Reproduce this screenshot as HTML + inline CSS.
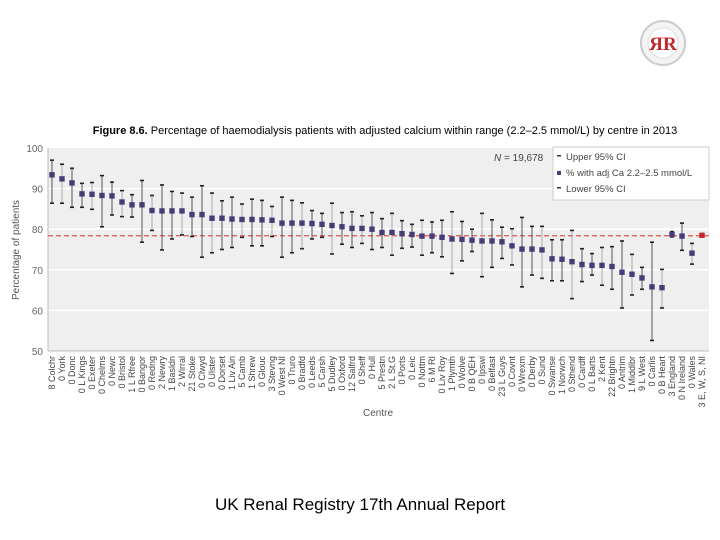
<!DOCTYPE html>
<html><head><meta charset="utf-8"><style>
body{margin:0;background:#fff;width:720px;height:540px;overflow:hidden;font-family:"Liberation Sans",sans-serif}
svg{display:block}
</style></head><body>
<svg id="chart" width="720" height="540" xmlns="http://www.w3.org/2000/svg" font-family="Liberation Sans, sans-serif">
<g>
<circle cx="663" cy="43" r="22" fill="#f4f4f4" stroke="#ccc" stroke-width="2"/>
<circle cx="663" cy="43" r="15" fill="#fff" stroke="#ddd"/>
<text x="663" y="50" text-anchor="middle" font-size="19" font-weight="bold" fill="#c0282d" font-family="Liberation Serif, serif">ЯR</text>
</g>
<text x="385" y="134" text-anchor="middle" font-size="11" fill="#000"><tspan font-weight="bold">Figure 8.6.</tspan> Percentage of haemodialysis patients with adjusted calcium within range (2.2–2.5 mmol/L) by centre in 2013</text>
<rect x="48" y="148" width="661" height="203" fill="#efefef"/>
<g id="grid"></g>
<g id="yticks"></g>
<line x1="48" y1="148" x2="48" y2="351" stroke="#bbb"/>
<line x1="48" y1="351" x2="709" y2="351" stroke="#bbb"/>
<text transform="translate(19,250) rotate(-90)" text-anchor="middle" font-size="10" fill="#555">Percentage of patients</text>
<text x="378" y="416" text-anchor="middle" font-size="10" fill="#555">Centre</text>
<line id="refline" stroke="#e0645a" stroke-width="1.3" stroke-dasharray="5,3"/>
<g id="marks"></g>
<g id="xlabels"></g>
<g>
<rect x="553" y="147" width="156" height="53" fill="#fff" stroke="#ccc"/>
<text x="494" y="161" font-size="10" fill="#444"><tspan font-style="italic">N</tspan> = 19,678</text>
<rect x="557" y="155" width="4" height="1.5" fill="#333"/><text x="566" y="160" font-size="9.5" fill="#444">Upper 95% CI</text>
<rect x="557" y="171" width="4" height="4" fill="#4a3f7a"/><text x="566" y="176" font-size="9.5" fill="#444">% with adj Ca 2.2–2.5 mmol/L</text>
<rect x="557" y="187" width="4" height="1.5" fill="#333"/><text x="566" y="192" font-size="9.5" fill="#444">Lower 95% CI</text>
</g>
<text x="360" y="510" text-anchor="middle" font-size="17" fill="#000">UK Renal Registry 17th Annual Report</text>
</svg>
<script>
const categories=["8 Colchr","0 York","0 Donc","0 L Kings","0 Exeter","0 Chelms","0 Newc","0 Bristol","1 L Rfree","0 Bangor","0 Redng","2 Newry","1 Basldn","2 Wirral","21 Stoke","0 Clwyd","0 Ulster","0 Dorset","1 Liv Ain","5 Camb","1 Shrew","0 Glouc","3 Stevng","0 West NI","0 Truro","0 Bradfd","0 Leeds","5 Carsh","5 Dudley","0 Oxford","12 Salfrd","0 Sheff","0 Hull","5 Prestn","2 L St.G","0 Ports","0 Leic","0 Nottm","6 M RI","0 Liv Roy","1 Plymth","0 Wolve","0 B QEH","0 Ipswi","0 Belfast","23 L Guys","0 Covnt","0 Wrexm","0 Derby","0 Sund","0 Swanse","1 Norwch","0 Sthend","0 Cardff","0 L Barts","2 Kent","22 Brightn","0 Antrim","1 Middlbr","9 L West","0 Carlis","0 B Heart","3 England","0 N Ireland","0 Wales","3 E, W, S, NI"];
const meanValues=[93.4,92.4,91.4,88.7,88.6,88.3,88.2,86.7,86.0,86.0,84.6,84.5,84.5,84.5,83.6,83.6,82.7,82.7,82.5,82.4,82.4,82.3,82.2,81.5,81.5,81.5,81.4,81.2,80.9,80.6,80.2,80.2,80.0,79.2,79.2,78.9,78.7,78.3,78.3,78.0,77.6,77.5,77.3,77.1,77.1,76.9,75.9,75.1,75.1,74.9,72.7,72.6,72.0,71.3,71.1,71.1,70.8,69.4,68.9,68.0,65.8,65.6,78.7,78.3,74.1,78.5];
const upperValues=[97.0,96.0,95.0,91.3,91.5,93.2,91.6,89.5,88.5,92.0,88.3,90.9,89.3,88.9,87.9,90.7,88.9,87.0,87.9,86.2,87.4,87.1,85.6,87.9,87.1,86.5,84.6,83.9,86.4,84.1,84.3,83.3,84.1,82.6,83.9,82.1,81.2,82.2,81.8,82.2,84.3,81.9,80.0,83.9,82.3,80.5,80.1,82.9,80.7,80.7,77.4,77.4,79.7,75.2,74.0,75.5,75.7,77.1,73.8,70.6,76.8,70.1,79.4,81.5,76.5,78.8];
const lowerValues=[86.4,86.4,85.4,85.4,84.9,80.6,83.5,83.1,83.0,76.8,79.7,74.9,77.6,78.6,78.2,73.1,74.2,75.0,75.5,78.0,75.9,75.9,78.2,73.1,74.2,75.2,77.6,78.0,73.9,76.3,75.5,76.5,75.0,75.5,73.6,75.3,75.6,73.6,74.2,73.2,69.1,72.2,74.5,68.3,70.6,72.8,71.2,65.8,68.7,67.9,67.3,67.3,62.9,67.1,68.7,66.2,65.2,60.6,63.8,65.2,52.6,60.6,78.1,74.8,71.4,78.2];
const referenceValue=78.4;
const yTicks=[50,60,70,80,90,100];
const NS="http://www.w3.org/2000/svg";
const y=v=>148+(100-v)*(203/50);
const x=i=>52+i*(650/(categories.length-1));
function mk(t,a,p){const e=document.createElementNS(NS,t);for(const k in a)e.setAttribute(k,a[k]);p.appendChild(e);return e;}
const grid=document.getElementById('grid'),yt=document.getElementById('yticks');
yTicks.forEach(v=>{
 if(v>50&&v<100){const g=mk('line',{x1:48,x2:709,y1:y(v),y2:y(v),stroke:'#fff','stroke-width':1.5},grid);
 
 }
 const t=mk('text',{x:43,y:y(v)+4,'text-anchor':'end','font-size':10,fill:'#666'},yt);t.textContent=v;
 
 
});
const rl=document.getElementById('refline');
rl.setAttribute('x1',48);rl.setAttribute('x2',709);rl.setAttribute('y1',y(referenceValue));rl.setAttribute('y2',y(referenceValue));
const marks=document.getElementById('marks'),xl=document.getElementById('xlabels');
categories.forEach((c,i)=>{
 const g=mk('g',{},marks);
 
 
 const cx=x(i);
 mk('line',{x1:cx,x2:cx,y1:y(upperValues[i]),y2:y(lowerValues[i]),stroke:i%3==1?'#aaa':'#555','stroke-width':1},g);
 mk('rect',{x:cx-2,y:y(upperValues[i])-0.8,width:4,height:1.6,fill:'#222'},g);
 mk('rect',{x:cx-2,y:y(lowerValues[i])-0.8,width:4,height:1.6,fill:'#222'},g);
 const last=i==categories.length-1;
 mk('rect',{x:cx-2.7,y:y(meanValues[i])-2.7,width:5.4,height:5.4,fill:last?'#c0282d':'#463c78'},g);
 const t=mk('text',{transform:`translate(${cx+3},356) rotate(-90)`,'text-anchor':'end','font-size':9,fill:'#444'},xl);
 t.textContent=c;
 
 
});
</script>
</body></html>
